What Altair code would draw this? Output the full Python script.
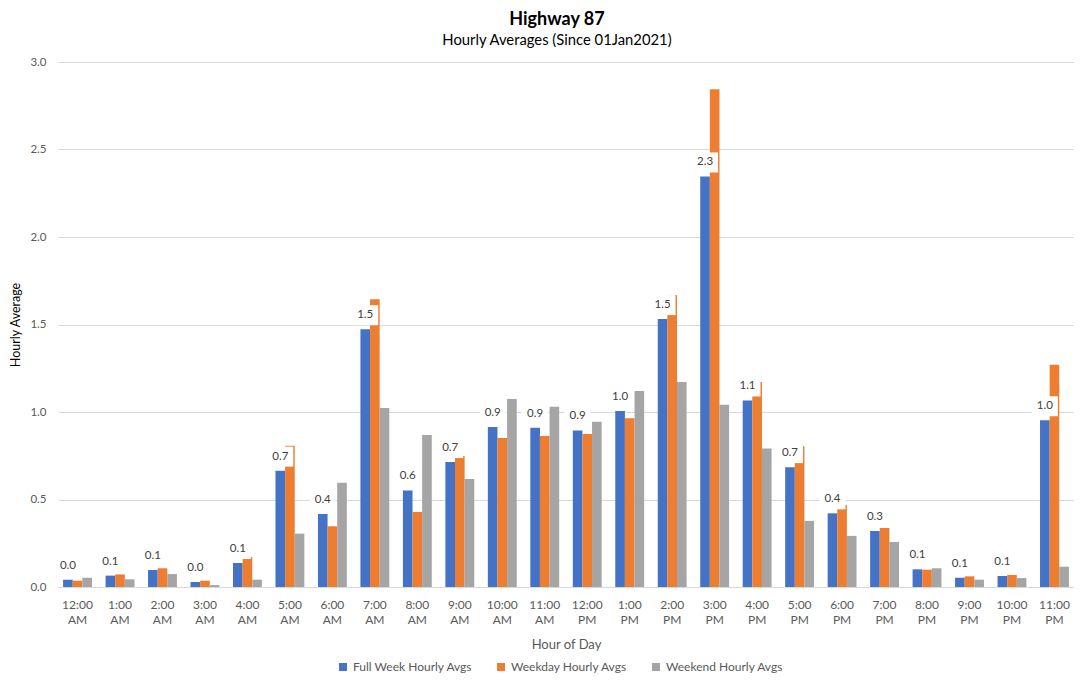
import altair as alt
import pandas as pd

hours = ["12:00 AM", "1:00 AM", "2:00 AM", "3:00 AM", "4:00 AM", "5:00 AM",
         "6:00 AM", "7:00 AM", "8:00 AM", "9:00 AM", "10:00 AM", "11:00 AM",
         "12:00 PM", "1:00 PM", "2:00 PM", "3:00 PM", "4:00 PM", "5:00 PM",
         "6:00 PM", "7:00 PM", "8:00 PM", "9:00 PM", "10:00 PM", "11:00 PM"]
full_week = [0.042, 0.065, 0.097, 0.029, 0.137, 0.665, 0.417, 1.473, 0.552, 0.714,
             0.914, 0.910, 0.895, 1.006, 1.531, 2.346, 1.066, 0.685, 0.421, 0.320,
             0.101, 0.053, 0.063, 0.953]
weekday = [0.036, 0.072, 0.107, 0.036, 0.171, 0.807, 0.347, 1.644, 0.429, 0.749,
           0.851, 0.863, 0.874, 0.964, 1.669, 2.844, 1.172, 0.805, 0.469, 0.337,
           0.099, 0.061, 0.069, 1.270]
weekend = [0.053, 0.044, 0.074, 0.011, 0.042, 0.305, 0.596, 1.023, 0.869, 0.617,
           1.074, 1.030, 0.945, 1.120, 1.172, 1.042, 0.792, 0.378, 0.292, 0.257,
           0.107, 0.042, 0.051, 0.116]
series = ["Full Week Hourly Avgs", "Weekday Hourly Avgs", "Weekend Hourly Avgs"]
colors = ["#4472C4", "#ED7D31", "#A5A5A5"]
y_ticks = [0.0, 0.5, 1.0, 1.5, 2.0, 2.5, 3.0]

rows = []
for i, h in enumerate(hours):
    for s, vals in zip(series, [full_week, weekday, weekend]):
        rows.append({"hour": h, "series": s, "value": vals[i]})
df = pd.DataFrame(rows)
lab = pd.DataFrame({"hour": hours, "series": series[0], "value": full_week})

FONT = "Lato"
GREY = "#595959"

x = alt.X(
    "hour:N", sort=hours, title="Hour of Day",
    scale=alt.Scale(paddingInner=0.32, paddingOuter=0.12),
    axis=alt.Axis(labelExpr="split(datum.label, ' ')", labelAngle=0, ticks=False,
                  domain=True, domainColor="#d9d9d9", labelPadding=12,
                  labelLineHeight=15, labelFontSize=12, labelColor=GREY,
                  labelFont=FONT, titleFont=FONT, titleFontSize=13,
                  titleColor=GREY, titleFontWeight="normal", titlePadding=13),
)
xoff = alt.XOffset("series:N", sort=series,
                   scale=alt.Scale(domain=series, paddingInner=0, paddingOuter=0))
y = alt.Y(
    "value:Q", title="Hourly Average", scale=alt.Scale(domain=[0, 3]),
    axis=alt.Axis(values=y_ticks, format=".1f", domain=False, ticks=False,
                  gridColor="#d9d9d9", labelPadding=12, labelFontSize=11.5,
                  labelColor=GREY, labelFont=FONT, titleFont=FONT,
                  titleFontSize=12.5, titleColor="#000000",
                  titleFontWeight="normal", titlePadding=7),
)

bars = alt.Chart(df).mark_bar().encode(
    x=x, xOffset=xoff, y=y,
    color=alt.Color("series:N", sort=series,
                    scale=alt.Scale(domain=series, range=colors),
                    legend=alt.Legend(title=None, orient="none", legendX=279,
                                      legendY=599, direction="horizontal",
                                      symbolType="square", symbolSize=64,
                                      symbolStrokeWidth=0, symbolOpacity=1,
                                      labelFont=FONT, labelFontSize=12,
                                      labelColor=GREY, columnPadding=22,
                                      labelOffset=4, padding=0)),
)

boxes = alt.Chart(lab).mark_point(
    shape="M-1,-0.77L1,-0.77L1,0.77L-1,0.77Z", size=676, filled=True,
    fill="white", opacity=1, strokeWidth=0, yOffset=-14,
).encode(x=x, xOffset=xoff, y=y)

texts = alt.Chart(lab).mark_text(
    yOffset=-14, baseline="middle", align="center", fontSize=11.5, font=FONT,
    color="#404040",
).encode(x=x, xOffset=xoff, y=y, text=alt.Text("value:Q", format=".1f"))

chart = alt.layer(bars, boxes, texts).properties(
    width=1016, height=525,
    padding={"left": 50, "top": 54, "right": 0, "bottom": 87},
    autosize=alt.AutoSizeParams(type="none"),
    title=alt.TitleParams("Highway 87", subtitle="Hourly Averages (Since 01Jan2021)",
                          font=FONT, fontSize=18, fontWeight="bold", color="#000000",
                          subtitleFont=FONT, subtitleFontSize=14.8,
                          subtitleColor="#000000", anchor="middle", dx=-9,
                          offset=8, subtitlePadding=4),
).configure_view(strokeWidth=0)

chart.save("out.html", embed_options={"renderer": "svg", "actions": False})
